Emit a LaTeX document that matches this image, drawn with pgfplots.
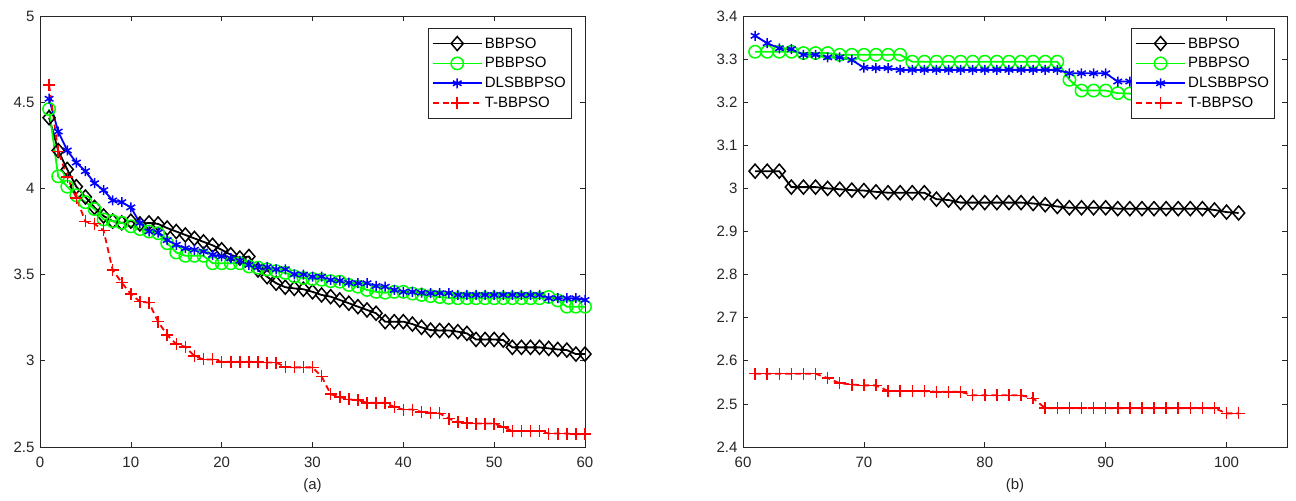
\documentclass[border=0pt]{standalone}
\usepackage{fontspec}
\setmainfont{Liberation Sans}
\usepackage{pgfplots}
\pgfplotsset{compat=1.18}
\usepackage{pgfplotstable}
\definecolor{axgray}{rgb}{0.15,0.15,0.15}
\definecolor{mgreen}{rgb}{0,1,0}
\definecolor{mblue}{rgb}{0,0,1}
\definecolor{mred}{rgb}{1,0,0}

\pgfplotstableread{
x bb pb dls t
1 4.41 4.46 4.52 4.60
2 4.22 4.07 4.33 4.215
3 4.11 4.01 4.22 4.066
4 4.01 3.96 4.15 3.944
5 3.95 3.92 4.10 3.808
6 3.89 3.88 4.03 3.795
7 3.84 3.82 3.99 3.756
8 3.81 3.81 3.93 3.527
9 3.80 3.80 3.92 3.453
10 3.81 3.78 3.89 3.388
11 3.794 3.764 3.80 3.343
12 3.80 3.75 3.75 3.337
13 3.794 3.74 3.744 3.227
14 3.77 3.682 3.70 3.15
15 3.75 3.628 3.673 3.097
16 3.73 3.609 3.653 3.081
17 3.71 3.609 3.644 3.027
18 3.69 3.609 3.634 3.008
19 3.67 3.566 3.615 3.008
20 3.644 3.566 3.605 2.994
21 3.615 3.566 3.595 2.994
22 3.596 3.566 3.58 2.994
23 3.605 3.547 3.556 2.994
24 3.527 3.54 3.543 2.994
25 3.488 3.53 3.543 2.99
26 3.45 3.52 3.531 2.99
27 3.427 3.51 3.531 2.965
28 3.42 3.49 3.502 2.962
29 3.415 3.48 3.50 2.962
30 3.40 3.475 3.488 2.962
31 3.382 3.47 3.488 2.91
32 3.372 3.462 3.469 2.806
33 3.353 3.459 3.465 2.79
34 3.334 3.44 3.453 2.776
35 3.314 3.43 3.45 2.772
36 3.295 3.411 3.45 2.756
37 3.276 3.40 3.434 2.756
38 3.227 3.395 3.43 2.756
39 3.227 3.40 3.411 2.733
40 3.227 3.40 3.40 2.717
41 3.213 3.39 3.40 2.717
42 3.194 3.382 3.395 2.704
43 3.178 3.375 3.392 2.698
44 3.176 3.37 3.392 2.695
45 3.176 3.365 3.392 2.665
46 3.169 3.363 3.382 2.645
47 3.159 3.363 3.382 2.64
48 3.124 3.363 3.382 2.636
49 3.124 3.363 3.382 2.636
50 3.124 3.363 3.382 2.636
51 3.12 3.363 3.382 2.616
52 3.078 3.363 3.382 2.593
53 3.078 3.363 3.382 2.593
54 3.078 3.363 3.382 2.593
55 3.078 3.363 3.382 2.593
56 3.072 3.37 3.363 2.578
57 3.066 3.35 3.363 2.578
58 3.062 3.314 3.363 2.578
59 3.039 3.314 3.363 2.574
60 3.039 3.314 3.353 2.574
}\lefttab

\pgfplotstableread{
x bb pb dls t
61 3.040 3.317 3.354 2.570
62 3.040 3.317 3.337 2.570
63 3.040 3.317 3.325 2.570
64 3.003 3.317 3.323 2.570
65 3.003 3.314 3.310 2.570
66 3.003 3.314 3.310 2.570
67 3.000 3.314 3.304 2.560
68 2.998 3.310 3.304 2.548
69 2.996 3.310 3.298 2.545
70 2.995 3.310 3.280 2.543
71 2.992 3.310 3.279 2.543
72 2.990 3.310 3.279 2.530
73 2.990 3.310 3.275 2.530
74 2.990 3.294 3.275 2.530
75 2.990 3.294 3.275 2.530
76 2.975 3.294 3.275 2.528
77 2.973 3.294 3.275 2.528
78 2.967 3.294 3.275 2.528
79 2.967 3.294 3.275 2.520
80 2.967 3.294 3.275 2.520
81 2.967 3.294 3.275 2.520
82 2.967 3.294 3.275 2.520
83 2.967 3.294 3.275 2.520
84 2.965 3.294 3.275 2.513
85 2.962 3.294 3.275 2.490
86 2.958 3.294 3.275 2.490
87 2.955 3.252 3.267 2.490
88 2.955 3.227 3.267 2.490
89 2.955 3.227 3.267 2.490
90 2.955 3.227 3.267 2.490
91 2.953 3.221 3.248 2.490
92 2.953 3.220 3.248 2.490
93 2.953 3.215 3.245 2.490
94 2.953 3.215 3.245 2.490
95 2.953 3.212 3.240 2.490
96 2.953 3.210 3.240 2.490
97 2.953 3.210 3.240 2.490
98 2.953 3.205 3.235 2.490
99 2.950 3.205 3.235 2.490
100 2.945 3.200 3.230 2.478
101 2.943 3.200 3.230 2.478
}\righttab

\newcommand{\mfont}{\fontsize{15bp}{17bp}\selectfont}

\pgfplotsset{
  mstyle/.style={
    scale only axis, clip=false,
    axis line style={axgray, line width=0.6bp},
    every tick/.style={axgray, line width=0.6bp},
    major tick length=5bp,
    tick align=inside,
    xtick pos=both, ytick pos=both,
    ticklabel style={font=\mfont, text=axgray},
    xticklabel style={yshift=-7bp},
    yticklabel style={xshift=-2bp},
    /pgf/number format/assume math mode=true,
    xlabel style={font=\mfont, text=axgray, at={(axis description cs:0.5,0)}, anchor=north, yshift=-28bp},
    legend cell align=left,
    legend style={draw=axgray, fill=white, line width=0.6bp,
      font=\mfont, text=black, inner xsep=3.5bp, inner ysep=7bp,
      nodes={inner sep=2.2bp}, row sep=3.5bp,
      anchor=north east},
    legend image code/.code={
      \draw[mark repeat=2, mark phase=2] plot coordinates {(0bp,0bp) (24.5bp,0bp) (49bp,0bp)};
    },
  },
  sbb/.style={color=black, line width=1.8bp, mark=diamond, mark size=7bp, mark options={solid, line width=1.5bp, xscale=1.15}},
  spb/.style={color=mgreen, line width=1.8bp, mark=o, mark size=6.2bp, mark options={solid, line width=1.5bp}},
  sdl/.style={color=mblue, line width=1.8bp, mark=asterisk, mark size=5bp, mark options={solid, line width=1.5bp}},
  sbt/.style={color=mred, line width=1.8bp, dash pattern=on 6bp off 4bp, mark=+, mark size=6bp, mark options={solid, line width=1.5bp}},
}

\begin{document}
\begin{tikzpicture}
\useasboundingbox (0,0) rectangle (1296bp,501bp);
\begin{axis}[mstyle,
  at={(40bp,54bp)}, anchor=south west,
  width=545bp, height=431bp,
  xmin=0, xmax=60, ymin=2.5, ymax=5,
  xtick={0,10,...,60}, ytick={2.5,3,3.5,4,4.5,5},
  yticklabels={2.5,3,3.5,4,4.5,5},
  xlabel={(a)},
  legend style={at={(rel axis cs:0.9756,0.972)}},
]
\addplot[sbb] table[x=x, y=bb] {\lefttab};
\addplot[spb] table[x=x, y=pb] {\lefttab};
\addplot[sdl] table[x=x, y=dls] {\lefttab};
\addplot[sbt] table[x=x, y=t] {\lefttab};
\legend{BBPSO, PBBPSO, DLSBBPSO, T-BBPSO}
\end{axis}
\begin{axis}[mstyle,
  at={(743bp,54bp)}, anchor=south west,
  width=544bp, height=431bp,
  xmin=60, xmax=105, ymin=2.4, ymax=3.4,
  xtick={60,70,...,100}, ytick={2.4,2.5,...,3.4},
  yticklabels={2.4,2.5,2.6,2.7,2.8,2.9,3,3.1,3.2,3.3,3.4},
  xlabel={(b)},
  legend style={at={(rel axis cs:0.978,0.972)}},
]
\addplot[sbb] table[x=x, y=bb] {\righttab};
\addplot[spb] table[x=x, y=pb] {\righttab};
\addplot[sdl] table[x=x, y=dls] {\righttab};
\addplot[sbt] table[x=x, y=t] {\righttab};
\legend{BBPSO, PBBPSO, DLSBBPSO, T-BBPSO}
\end{axis}
\end{tikzpicture}
\end{document}
